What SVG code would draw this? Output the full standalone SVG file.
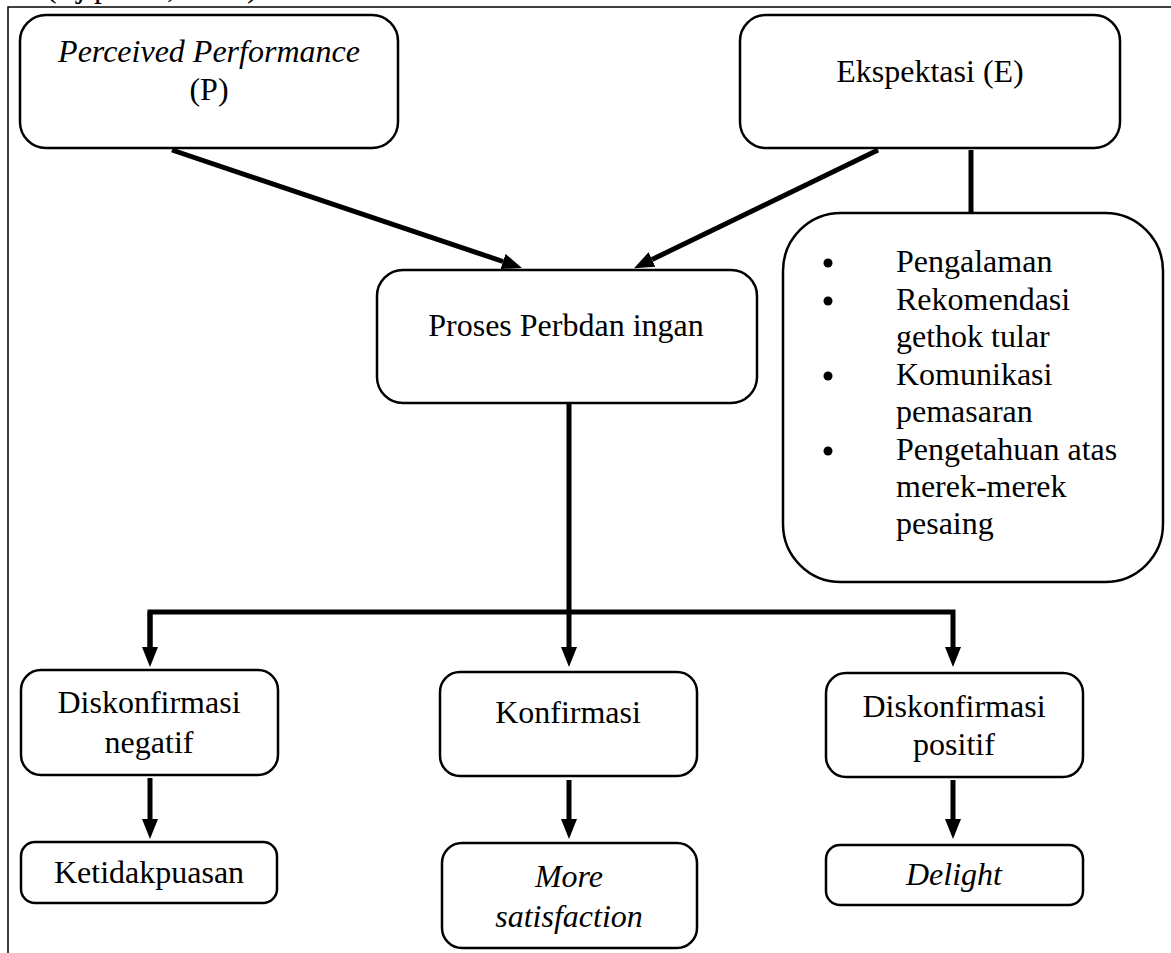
<svg xmlns="http://www.w3.org/2000/svg" width="1171" height="953" viewBox="0 0 1171 953">
<style>
.box{fill:#fff;stroke:#000;stroke-width:2.5}
.t{font-family:"Liberation Serif","Times New Roman",serif;font-size:32px;fill:#000}
.c{text-anchor:middle}
.i{font-style:italic}
.ln{stroke:#000;stroke-width:5;fill:none}
.frame{stroke:#000;stroke-width:1.5;fill:none}
</style>
<defs>
<marker id="ah" markerUnits="userSpaceOnUse" markerWidth="20" markerHeight="16" refX="0" refY="8" orient="auto" viewBox="0 0 20 16">
<path d="M0,0 L20,8 L0,16 z" fill="#000"/>
</marker>
</defs>
<rect width="1171" height="953" fill="#fff"/>
<text class="t" x="46" y="-3">(Tjiptono, 2008)</text>
<path class="frame" d="M8,953 V7 H1171"/>

<g id="connectors">
<line class="ln" x1="172" y1="150" x2="503" y2="261.5" marker-end="url(#ah)"/>
<line class="ln" x1="878" y1="150" x2="652" y2="259.5" marker-end="url(#ah)"/>
<line class="ln" x1="971" y1="150" x2="971" y2="213"/>
<line class="ln" x1="569" y1="403" x2="569" y2="612"/>
<polyline class="ln" points="150,647 150,612 953,612 953,647" marker-end="url(#ah)"/>
<line class="ln" x1="150" y1="612" x2="150" y2="647" marker-end="url(#ah)"/>
<line class="ln" x1="569" y1="612" x2="569" y2="647" marker-end="url(#ah)"/>
<line class="ln" x1="150" y1="778" x2="150" y2="819" marker-end="url(#ah)"/>
<line class="ln" x1="569" y1="780" x2="569" y2="819" marker-end="url(#ah)"/>
<line class="ln" x1="953" y1="780" x2="953" y2="819" marker-end="url(#ah)"/>
</g>

<g id="perceived">
<rect class="box" x="20" y="15" width="378" height="133" rx="26"/>
<text class="t c i" x="209" y="62">Perceived Performance</text>
<text class="t c" x="209" y="100">(P)</text>
</g>

<g id="ekspektasi">
<rect class="box" x="740" y="15" width="380" height="133" rx="26"/>
<text class="t c" x="930" y="82">Ekspektasi (E)</text>
</g>

<g id="faktor">
<rect class="box" x="783" y="213" width="380" height="369" rx="58"/>
<circle cx="828" cy="263" r="4.5"/>
<circle cx="828" cy="301" r="4.5"/>
<circle cx="828" cy="376" r="4.5"/>
<circle cx="828" cy="451" r="4.5"/>
<text class="t" x="896" y="272">Pengalaman</text>
<text class="t" x="896" y="310">Rekomendasi</text>
<text class="t" x="896" y="347">gethok tular</text>
<text class="t" x="896" y="385">Komunikasi</text>
<text class="t" x="896" y="422">pemasaran</text>
<text class="t" x="896" y="460">Pengetahuan atas</text>
<text class="t" x="896" y="497">merek-merek</text>
<text class="t" x="896" y="534">pesaing</text>
</g>

<g id="proses">
<rect class="box" x="377" y="270" width="380" height="133" rx="26"/>
<text class="t c" x="566" y="336">Proses Perbdan ingan</text>
</g>

<g id="diskonfirmasi-negatif">
<rect class="box" x="21" y="670" width="257" height="105" rx="20"/>
<text class="t c" x="149" y="713">Diskonfirmasi</text>
<text class="t c" x="149" y="753">negatif</text>
</g>

<g id="konfirmasi">
<rect class="box" x="440" y="672" width="257" height="104" rx="20"/>
<text class="t c" x="568" y="723">Konfirmasi</text>
</g>

<g id="diskonfirmasi-positif">
<rect class="box" x="826" y="673" width="257" height="104" rx="20"/>
<text class="t c" x="954" y="717">Diskonfirmasi</text>
<text class="t c" x="954" y="755">positif</text>
</g>

<g id="ketidakpuasan">
<rect class="box" x="21" y="842" width="256" height="61" rx="14"/>
<text class="t c" x="149" y="883">Ketidakpuasan</text>
</g>

<g id="more-satisfaction">
<rect class="box" x="442" y="843" width="255" height="105" rx="20"/>
<text class="t c i" x="569" y="887">More</text>
<text class="t c i" x="569" y="927">satisfaction</text>
</g>

<g id="delight">
<rect class="box" x="826" y="845" width="257" height="60" rx="14"/>
<text class="t c i" x="954" y="885">Delight</text>
</g>
</svg>
